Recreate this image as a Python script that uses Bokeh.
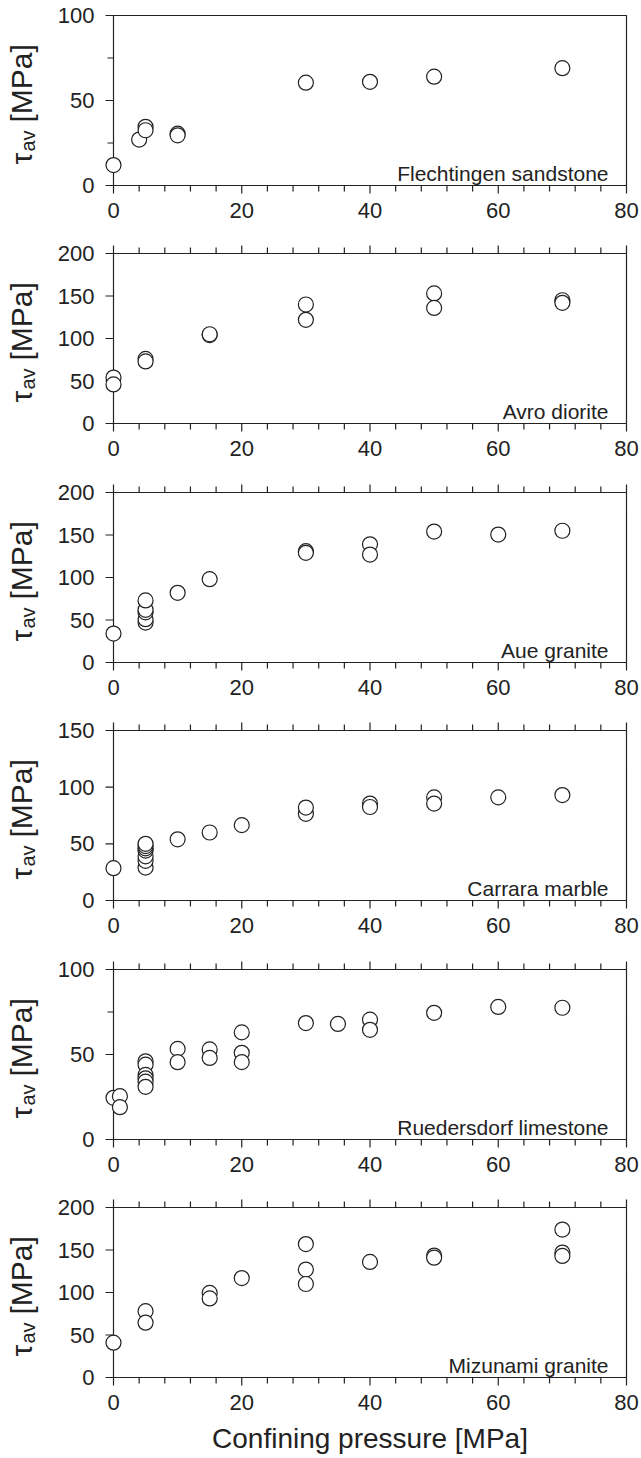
from math import pi
from bokeh.plotting import figure
from bokeh.models import ColumnDataSource, Range1d
from bokeh.core.properties import value
from bokeh.layouts import column
from bokeh.embed import file_html
from bokeh.resources import INLINE

# ---------------- data ----------------
rock_names = ["Flechtingen sandstone", "Avro diorite", "Aue granite",
              "Carrara marble", "Ruedersdorf limestone", "Mizunami granite"]

flechtingen_p = [0, 4, 5, 5, 10, 10, 30, 40, 50, 70]
flechtingen_tau = [12, 27, 34.5, 32.5, 30.5, 29.5, 60.5, 61, 64, 69]

avro_p = [0, 0, 5, 5, 15, 15, 30, 30, 50, 50, 70, 70]
avro_tau = [54, 46, 76, 73, 104, 105, 140, 122, 153, 136, 145, 142]

aue_p = [0, 5, 5, 5, 5, 5, 10, 15, 30, 30, 40, 40, 50, 60, 70]
aue_tau = [34, 47, 51, 59, 62, 73, 82, 98, 131, 129, 139, 127, 154, 150.5, 155]

carrara_p = [0, 5, 5, 5, 5, 5, 5, 5, 10, 15, 20, 30, 30, 40, 40, 50, 50, 60, 70]
carrara_tau = [28.5, 29, 35, 39, 44, 46, 48, 50, 54, 60, 66.5, 76.5, 82, 85.5, 82.5, 91, 85.5, 91, 93]

ruedersdorf_p = [0, 1, 1, 5, 5, 5, 5, 5, 5, 10, 10, 15, 15, 20, 20, 20, 30, 35, 40, 40, 50, 60, 70]
ruedersdorf_tau = [24.5, 25.5, 19, 46, 44, 38, 36, 34, 31, 53.3, 45.5, 53, 48, 63, 51, 45.5,
                   68.5, 68, 70.5, 64.5, 74.5, 78, 77.5]

mizunami_p = [0, 5, 5, 15, 15, 20, 30, 30, 30, 40, 50, 50, 70, 70, 70]
mizunami_tau = [41, 78, 64.5, 99.5, 93, 117, 157, 127, 110, 136, 143.5, 141, 174, 147, 143]

pressures = [flechtingen_p, avro_p, aue_p, carrara_p, ruedersdorf_p, mizunami_p]
strengths = [flechtingen_tau, avro_tau, aue_tau, carrara_tau, ruedersdorf_tau, mizunami_tau]

y_max = [100, 200, 200, 150, 100, 200]
y_major_ticks = [[0, 50, 100], [0, 50, 100, 150, 200], [0, 50, 100, 150, 200],
                 [0, 50, 100, 150], [0, 50, 100], [0, 50, 100, 150, 200]]
y_minor_ticks = [[25, 75], [], [], [], [25, 75], []]
x_major_ticks = [0, 20, 40, 60, 80]
x_minor_ticks = [4, 8, 12, 16, 24, 28, 32, 36, 44, 48, 52, 56, 64, 68, 72, 76]
x_label = "Confining pressure [MPa]"
y_symbol = "τ"
y_subscript = "av"
y_unit = "[MPa]"

# ---------------- layout constants ----------------
INK = "#222222"
FONT = "Liberation Sans"
W = 641
BOX_L = 113           # page x of x = 0
BOX_R = 626           # page x of x = 80
BOX_TOP = 15          # box top, px below the figure top
BOX_H = 170
heights = [238, 239, 238, 239, 238, 266]
LW = 1.2
MAJ_LEN = 8
MIN_LEN = 6
TICK_FS = "22px"


def make_panel(i):
    h = heights[i]
    ymax = y_max[i]
    x_lo, x_hi = x_major_ticks[0], x_major_ticks[-1]
    SX = (BOX_R - BOX_L) / (x_hi - x_lo)     # px per x unit
    SY = BOX_H / ymax                        # px per y unit
    below = h - BOX_TOP - BOX_H
    p = figure(width=W, height=h, output_backend="svg", toolbar_location=None, tools="",
               x_range=Range1d(x_lo - BOX_L / SX, x_hi + (W - BOX_R) / SX),
               y_range=Range1d(-below / SY, ymax + BOX_TOP / SY),
               x_axis_location=None, y_axis_location=None,
               min_border=0, min_border_left=0, min_border_right=0,
               min_border_top=0, min_border_bottom=0)
    p.grid.visible = False
    p.outline_line_color = None
    p.background_fill_color = "white"
    p.border_fill_color = "white"

    def text(x, y, t, align, baseline, size, angle=0.0):
        p.text(x=x, y=y, text=t, angle=angle, text_align=align, text_baseline=baseline,
               text_font=value(FONT), text_font_size=size, text_color=INK)

    # box
    p.quad(left=[x_lo], right=[x_hi], bottom=[0], top=[ymax],
           fill_color=None, line_color=INK, line_width=LW)

    # x ticks: bottom (all panels) and top (panels 2-6), pointing outward
    nM, nm = len(x_major_ticks), len(x_minor_ticks)
    p.segment(x0=x_major_ticks, x1=x_major_ticks, y0=[0] * nM, y1=[-MAJ_LEN / SY] * nM,
              line_color=INK, line_width=LW)
    p.segment(x0=x_minor_ticks, x1=x_minor_ticks, y0=[0] * nm, y1=[-MIN_LEN / SY] * nm,
              line_color=INK, line_width=LW)
    if i > 0:
        p.segment(x0=x_major_ticks, x1=x_major_ticks, y0=[ymax] * nM,
                  y1=[ymax + MAJ_LEN / SY] * nM, line_color=INK, line_width=LW)
        p.segment(x0=x_minor_ticks, x1=x_minor_ticks, y0=[ymax] * nm,
                  y1=[ymax + MIN_LEN / SY] * nm, line_color=INK, line_width=LW)
    text(x_major_ticks, [-17 / SY] * nM, [str(v) for v in x_major_ticks],
         "center", "top", TICK_FS)

    # y ticks (outward, left of x = 0)
    maj = y_major_ticks[i]
    mnr = y_minor_ticks[i]
    p.segment(x0=[x_lo - MAJ_LEN / SX] * len(maj), x1=[x_lo] * len(maj), y0=maj, y1=maj,
              line_color=INK, line_width=LW)
    if mnr:
        p.segment(x0=[x_lo - MIN_LEN / SX] * len(mnr), x1=[x_lo] * len(mnr), y0=mnr, y1=mnr,
                  line_color=INK, line_width=LW)
    text([x_lo - 19 / SX] * len(maj), maj, [str(v) for v in maj], "right", "middle", TICK_FS)

    # data
    src = ColumnDataSource(dict(p=pressures[i], tau=strengths[i]))
    p.scatter("p", "tau", source=src, marker="circle", size=15,
              fill_color="white", line_color=INK, line_width=LW)

    # rock name
    text([x_hi - 18 / SX], [12 / SY], [rock_names[i]], "right", "alphabetic", "21px")

    # y title: tau_av [MPa], rotated
    text([x_lo - 92 / SX], [21 / SY], [y_symbol], "left", "alphabetic", "30px", pi / 2)
    text([x_lo - 86 / SX], [34 / SY], [y_subscript], "left", "alphabetic", "20px", pi / 2)
    text([x_lo - 92 / SX], [63 / SY], [y_unit], "left", "alphabetic", "30px", pi / 2)

    # x title (last panel only)
    if i == len(heights) - 1:
        text([(x_lo + x_hi) / 2], [-61 / SY], [x_label], "center", "middle", "28px")
    return p


panels = [make_panel(i) for i in range(6)]
layout = column(*panels, spacing=0)

open("out.html", "w").write(file_html(layout, INLINE))
